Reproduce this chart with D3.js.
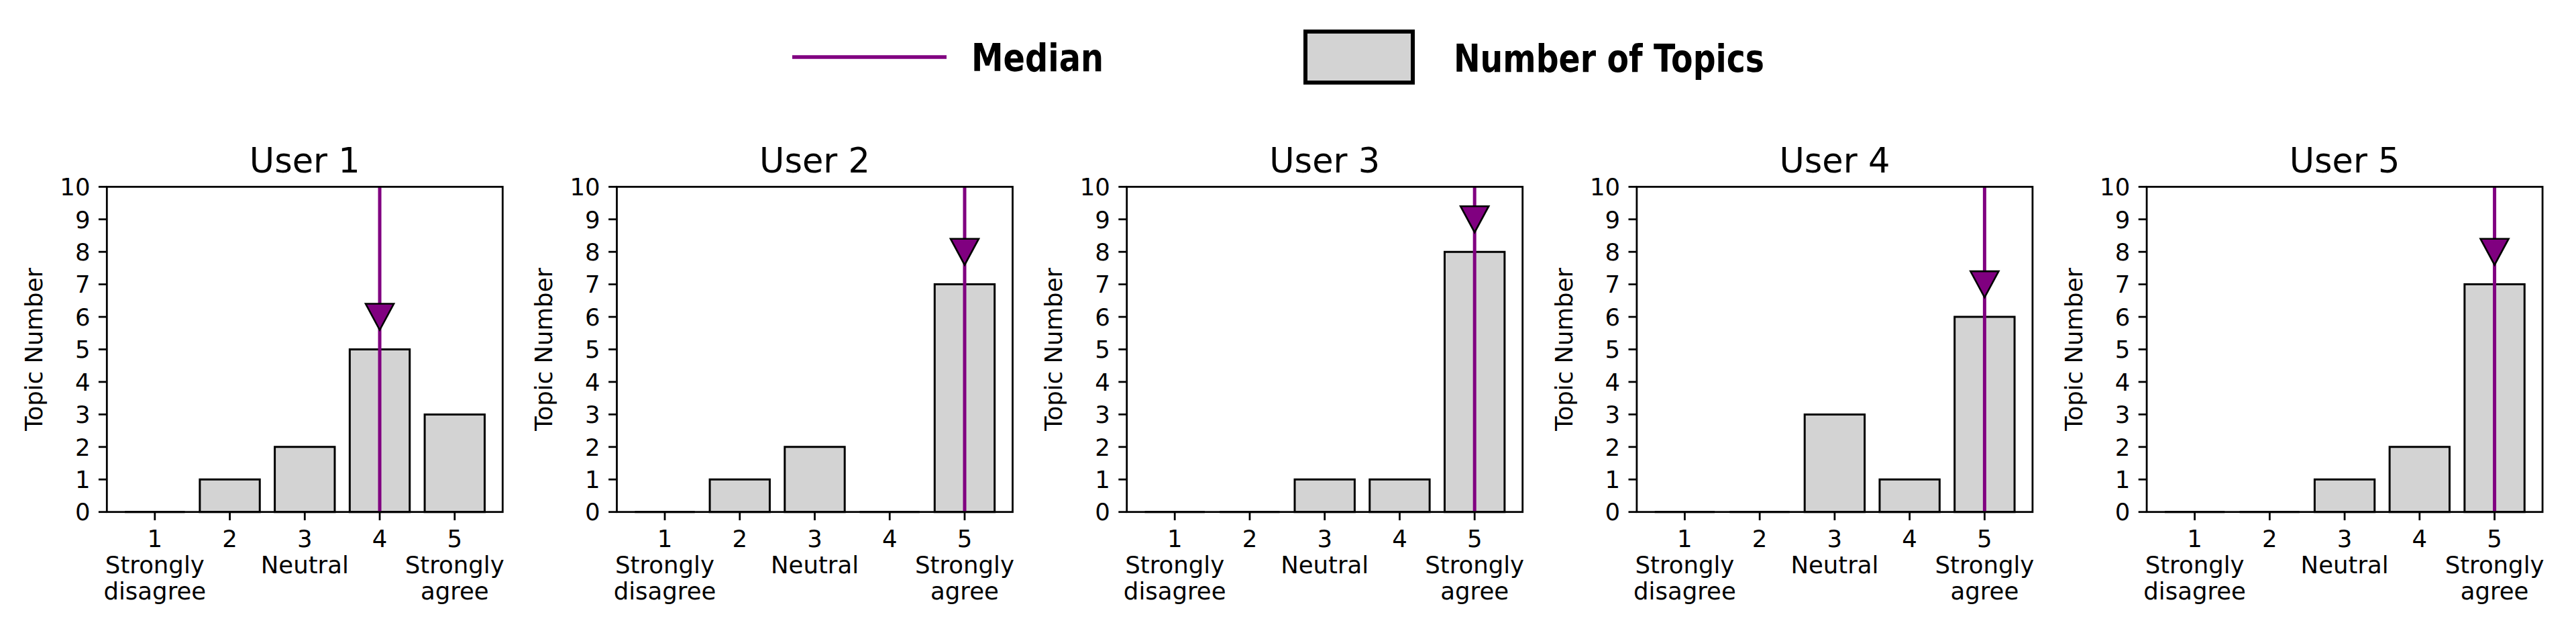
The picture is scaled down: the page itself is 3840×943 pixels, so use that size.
<!DOCTYPE html>
<html>
<head>
<meta charset="utf-8">
<script src="https://cdn.jsdelivr.net/npm/d3@7"></script>
<style>
  body { margin: 0; background: #fff; }
  text { font-family: "DejaVu Sans", sans-serif; fill: #000; }
</style>
</head>
<body>
<svg id="chart" width="3840" height="943"></svg>
<script>
// likert levels on the x axis
var levels = [1, 2, 3, 4, 5]
var levelLabels = ['1\nStrongly\ndisagree', '2', '3\nNeutral', '4', '5\nStrongly\nagree']
var users = ['User 1', 'User 2', 'User 3', 'User 4', 'User 5']
// topic counts per level, one row per user
var user1 = [0, 1, 2, 5, 3]
var user2 = [0, 1, 2, 0, 7]
var user3 = [0, 0, 1, 1, 8]
var user4 = [0, 0, 3, 1, 6]
var user5 = [0, 0, 1, 2, 7]
var counts = [user1, user2, user3, user4, user5]
var medians = [4, 5, 5, 5, 5]
var yTicks = [0, 1, 2, 3, 4, 5, 6, 7, 8, 9, 10]

var svg = d3.select('#chart')
var purple = '#800080'
var grey = '#d3d3d3'

var left0 = 159.3
  , step = 760.2
  , w = 590
  , axTop = 278.3
  , h = 484.4
  , tick = 12.4
  , fs = 35.5

var x = d3.scaleLinear().domain([0.36, 5.64]).range([0, w])
var y = d3.scaleLinear().domain([0, 10]).range([h, 0])

users.forEach(function (name, i) {
  var g = svg.append('g')
    .attr('transform', 'translate(' + (left0 + i * step) + ',' + axTop + ')')
  var data = counts[i]

  // bars (path so zero bars still show their edge)
  g.selectAll('.bar')
    .data(levels)
    .enter()
    .append('path')
    .attr('class', 'bar')
    .attr('d', function (d, k) {
      var x0 = x(d - 0.4), x1 = x(d + 0.4), y0 = y(0), y1 = y(data[k])
      return 'M' + x0 + ',' + y0 + 'L' + x0 + ',' + y1 + 'L' + x1 + ',' + y1 + 'L' + x1 + ',' + y0 + 'Z'
    })
    .attr('fill', grey)
    .attr('stroke', '#000')
    .attr('stroke-width', 3)
    .attr('stroke-linejoin', 'miter')

  // median line
  var m = medians[i]
  g.append('line')
    .attr('x1', x(m)).attr('x2', x(m))
    .attr('y1', y(0)).attr('y2', y(10))
    .attr('stroke', purple)
    .attr('stroke-width', 5)

  // marker one above the median bar
  var mx = x(m), my = y(data[levels.indexOf(m)] + 1)
  g.append('path')
    .attr('d', 'M' + (mx - 21) + ',' + (my - 19.5) + 'L' + (mx + 21) + ',' + (my - 19.5) + 'L' + mx + ',' + (my + 19.5) + 'Z')
    .attr('fill', purple)
    .attr('stroke', '#000')
    .attr('stroke-width', 2.6)
    .attr('stroke-linejoin', 'miter')

  // frame
  g.append('rect')
    .attr('x', 0).attr('y', 0)
    .attr('width', w).attr('height', h)
    .attr('fill', 'none')
    .attr('stroke', '#000')
    .attr('stroke-width', 2.8)

  // y axis
  var ya = g.append('g')
  ya.selectAll('line')
    .data(yTicks)
    .enter()
    .append('line')
    .attr('x1', -tick).attr('x2', 0)
    .attr('y1', function (d) { return y(d) })
    .attr('y2', function (d) { return y(d) })
    .attr('stroke', '#000')
    .attr('stroke-width', 2.8)
  ya.selectAll('text')
    .data(yTicks)
    .enter()
    .append('text')
    .attr('x', -tick - 12.4)
    .attr('y', function (d) { return y(d) })
    .attr('dy', '0.36em')
    .attr('text-anchor', 'end')
    .attr('font-size', fs)
    .text(function (d) { return d })

  // x axis
  var xa = g.append('g')
  xa.selectAll('line')
    .data(levels)
    .enter()
    .append('line')
    .attr('x1', function (d) { return x(d) })
    .attr('x2', function (d) { return x(d) })
    .attr('y1', h).attr('y2', h + tick)
    .attr('stroke', '#000')
    .attr('stroke-width', 2.8)
  xa.selectAll('text')
    .data(levels)
    .enter()
    .append('text')
    .attr('text-anchor', 'middle')
    .attr('font-size', fs)
    //multiline tick labels
    .each(function (d, k) {
      var arr = levelLabels[k].split('\n')
      for (let j = 0; j < arr.length; j++) {
        d3.select(this)
          .append('tspan')
          .attr('x', x(d))
          .attr('y', h + 52.5 + j * 39)
          .text(arr[j])
      }
    })

  // y label
  g.append('text')
    .attr('transform', 'translate(' + (63 - left0) + ',' + (h / 2) + ') rotate(-90)')
    .attr('text-anchor', 'middle')
    .attr('font-size', fs)
    .text('Topic Number')

  // title
  g.append('text')
    .attr('x', w / 2)
    .attr('y', -21.5)
    .attr('text-anchor', 'middle')
    .attr('font-size', 51)
    .text(name)
})

// legend
var lg = svg.append('g')
lg.append('line')
  .attr('x1', 1181).attr('x2', 1411)
  .attr('y1', 85).attr('y2', 85)
  .attr('stroke', purple)
  .attr('stroke-width', 5.7)
lg.append('text')
  .attr('x', 1448).attr('y', 106)
  .attr('font-family', 'Lato, sans-serif')
  .attr('font-weight', 'bold')
  .attr('font-size', 57)
  .attr('textLength', 197)
  .attr('lengthAdjust', 'spacingAndGlyphs')
  .text('Median')
lg.append('rect')
  .attr('x', 1946).attr('y', 47)
  .attr('width', 160).attr('height', 76)
  .attr('fill', grey)
  .attr('stroke', '#000')
  .attr('stroke-width', 6)
lg.append('text')
  .attr('x', 2167).attr('y', 107)
  .attr('font-family', 'Lato, sans-serif')
  .attr('font-weight', 'bold')
  .attr('font-size', 57)
  .attr('textLength', 463)
  .attr('lengthAdjust', 'spacingAndGlyphs')
  .text('Number of Topics')
</script>
</body>
</html>
